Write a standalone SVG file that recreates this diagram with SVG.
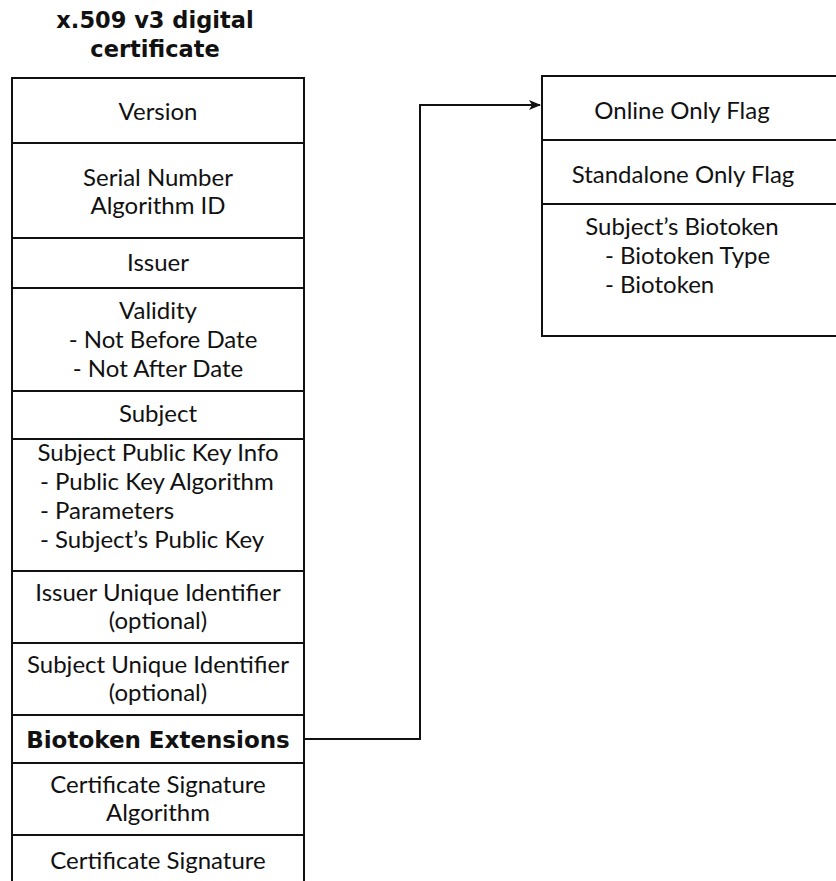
<svg xmlns="http://www.w3.org/2000/svg" width="836" height="881" viewBox="0 0 836 881">
  <defs>
    <marker id="arrow" markerWidth="12" markerHeight="10" refX="11" refY="5" orient="auto" markerUnits="userSpaceOnUse">
      <path d="M0,0 L12,5 L0,10 L3,5 Z" fill="#111"/>
    </marker>
  </defs>
  <style>
    .box { fill: #fff; stroke: #111; stroke-width: 2; }
    .div { stroke: #111; stroke-width: 2; }
    .t { font-family: Lato, "Liberation Sans", sans-serif; font-size: 24px; fill: #111; text-anchor: middle; }
    .l { text-anchor: start; }
    .b { font-family: "DejaVu Sans", sans-serif; font-size: 23px; font-weight: bold; }
    .title { font-family: "DejaVu Sans", sans-serif; font-size: 22.5px; font-weight: bold; fill: #111; text-anchor: middle; }
    .wire { fill: none; stroke: #111; stroke-width: 2; }
  </style>

  <rect width="836" height="881" fill="#fff"/>

  <g id="title">
    <text class="title" x="155" y="28">x.509 v3 digital</text>
    <text class="title" x="155" y="57">certificate</text>
  </g>

  <!-- certificate field stack -->
  <g id="certificate">
    <rect class="box" x="12" y="78" width="292" height="820"/>
    <line class="div" x1="12" y1="143" x2="304" y2="143"/>
    <line class="div" x1="12" y1="238" x2="304" y2="238"/>
    <line class="div" x1="12" y1="288" x2="304" y2="288"/>
    <line class="div" x1="12" y1="391" x2="304" y2="391"/>
    <line class="div" x1="12" y1="439" x2="304" y2="439"/>
    <line class="div" x1="12" y1="571" x2="304" y2="571"/>
    <line class="div" x1="12" y1="643" x2="304" y2="643"/>
    <line class="div" x1="12" y1="715" x2="304" y2="715"/>
    <line class="div" x1="12" y1="763" x2="304" y2="763"/>
    <line class="div" x1="12" y1="835" x2="304" y2="835"/>
  </g>

  <g id="version"><text class="t" x="158" y="120">Version</text></g>
  <g id="serial">
    <text class="t" x="158" y="186">Serial Number</text>
    <text class="t" x="158" y="214">Algorithm ID</text>
  </g>
  <g id="issuer"><text class="t" x="158" y="271">Issuer</text></g>
  <g id="validity">
    <text class="t" x="158" y="319">Validity</text>
    <text class="t" x="163" y="348">- Not Before Date</text>
    <text class="t" x="158" y="377">- Not After Date</text>
  </g>
  <g id="subject"><text class="t" x="158" y="422">Subject</text></g>
  <g id="spki">
    <text class="t" x="158" y="461">Subject Public Key Info</text>
    <text class="t l" x="40" y="490">- Public Key Algorithm</text>
    <text class="t l" x="40" y="519">- Parameters</text>
    <text class="t l" x="40" y="548">- Subject’s Public Key</text>
  </g>
  <g id="issuer-uid">
    <text class="t" x="158" y="601">Issuer Unique Identifier</text>
    <text class="t" x="158" y="629">(optional)</text>
  </g>
  <g id="subject-uid">
    <text class="t" x="158" y="673">Subject Unique Identifier</text>
    <text class="t" x="158" y="701">(optional)</text>
  </g>
  <g id="biotoken-ext"><text class="t b" x="158" y="748">Biotoken Extensions</text></g>
  <g id="sig-alg">
    <text class="t" x="158" y="793">Certificate Signature</text>
    <text class="t" x="158" y="821">Algorithm</text>
  </g>
  <g id="signature"><text class="t" x="158" y="869">Certificate Signature</text></g>

  <!-- biotoken extension fields -->
  <g id="extension">
    <rect class="box" x="542" y="76" width="310" height="260"/>
    <line class="div" x1="542" y1="140" x2="852" y2="140"/>
    <line class="div" x1="542" y1="204" x2="852" y2="204"/>
  </g>
  <g id="online-flag"><text class="t" x="682" y="119">Online Only Flag</text></g>
  <g id="standalone-flag"><text class="t" x="683" y="183">Standalone Only Flag</text></g>
  <g id="subject-biotoken">
    <text class="t" x="682" y="235">Subject’s Biotoken</text>
    <text class="t l" x="605" y="264">- Biotoken Type</text>
    <text class="t l" x="605" y="293">- Biotoken</text>
  </g>

  <g id="connectors">
    <path class="wire" d="M304,739 H420 V105 H540" marker-end="url(#arrow)"/>
  </g>
</svg>
